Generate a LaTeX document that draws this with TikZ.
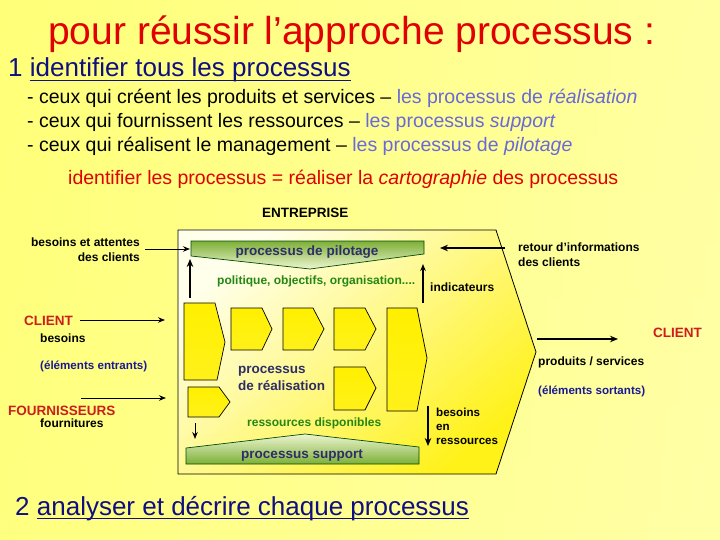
\documentclass[tikz,border=0pt]{standalone}
\usepackage{fontspec}
\setmainfont{Liberation Sans}
\usetikzlibrary{arrows.meta}
\definecolor{titlered}{RGB}{225,0,0}
\definecolor{navy}{RGB}{15,15,130}
\definecolor{lav}{RGB}{105,105,215}
\definecolor{cred}{RGB}{205,30,30}
\definecolor{dblue}{RGB}{25,25,150}
\definecolor{ptext}{RGB}{45,45,105}
\definecolor{dgreen}{RGB}{35,135,20}
\definecolor{gtop}{RGB}{125,175,55}
\definecolor{gpale}{RGB}{238,246,210}
\definecolor{yel}{RGB}{255,240,0}
\definecolor{bgtop}{RGB}{255,255,110}
\definecolor{bgmid}{RGB}{255,255,225}
\definecolor{bgbot}{RGB}{255,255,120}
\tikzset{
  lbl/.style={inner sep=0pt, font=\fontsize{12}{15}\selectfont\bfseries, align=left},
  big/.style={inner sep=0pt, font=\fontsize{13.5}{17}\selectfont\bfseries},
  head/.style={inner sep=0pt, anchor=base west, font=\fontsize{26}{30}\selectfont, text=navy},
  sub/.style={inner sep=0pt, anchor=west, font=\fontsize{19.5}{23}\selectfont},
  blk/.style={draw=black, line width=0.7pt, top color=yel, middle color=yellow!6, bottom color=yel!90},
  arr/.style={-{Stealth[length=7pt,width=5.5pt]}, line width=1pt},
  arrb/.style={-{Stealth[length=8pt,width=6.5pt]}, line width=1.8pt}
}
\begin{document}
\begin{tikzpicture}[x=1pt,y=-1pt]
\useasboundingbox (0,0) rectangle (720,540);
% background
\shade[top color=bgtop, middle color=bgmid, bottom color=bgbot] (0,0) rectangle (720,540);
\shade[left color=yellow!45, right color=white, opacity=0.35] (0,0) rectangle (720,540);

% title and headings
\node[inner sep=0pt, anchor=west, font=\fontsize{39}{44}\selectfont, text=titlered] (title) at (48,34) {pour réussir l’approche processus :};
\node[head] (h1n) at (8,77) {1};
\node[head] (h1) at (29.7,77) {identifier tous les processus};
\draw[navy, line width=1.5pt] ([yshift=2pt]h1.south west) -- ([yshift=2pt]h1.south east);
\node[sub] (l1) at (27,98) {- ceux qui créent les produits et services – \textcolor{lav}{les processus de \textit{réalisation}}};
\node[sub] (l2) at (27,122) {- ceux qui fournissent les ressources – \textcolor{lav}{les processus \textit{support}}};
\node[sub] (l3) at (27,146) {- ceux qui réalisent le management – \textcolor{lav}{les processus de \textit{pilotage}}};
\node[sub, text=titlered] (carto) at (68,179) {identifier les processus = réaliser la \textit{cartographie} des processus};

% enterprise
\node[big, anchor=west] (ent) at (262,213) {ENTREPRISE};
\shadedraw[draw=black, line width=0.8pt, top color=yellow!8, bottom color=yel!90, shading angle=40]
  (178,230) -- (496,230) -- (536,352) -- (496,474) -- (178,474) -- cycle;

% pilotage
\shadedraw[draw=black!70!green, line width=0.7pt, top color=gtop, bottom color=gpale]
  (191,241) -- (424,241) -- (424,254) -- (310,269) -- (191,256) -- cycle;
\node[big, text=ptext] (pil) at (307,252) {processus de pilotage};
\node[lbl, anchor=west, text=dgreen] (pol) at (217,281) {politique, objectifs, organisation....};

% support
\shadedraw[draw=black!70!green, line width=0.7pt, top color=gpale, bottom color=gtop]
  (186,464) -- (186,448) -- (305,434) -- (419,447) -- (419,464) -- cycle;
\node[big, text=ptext] (sup) at (302,455) {processus support};
\node[lbl, anchor=west, text=dgreen] (res) at (247,423) {ressources disponibles};

% realisation blocks
\path[blk] (184,303) -- (215,303) -- (225,342) -- (217,380) -- (184,380) -- cycle;
\path[blk] (231,308) -- (262,308) -- (272,329) -- (262,350) -- (231,350) -- cycle;
\path[blk] (283,308) -- (313,308) -- (324,329) -- (313,350) -- (283,350) -- cycle;
\path[blk] (334,308) -- (365,308) -- (376,329) -- (365,350) -- (334,350) -- cycle;
\path[blk] (387,308) -- (417,308) -- (427,358) -- (417,411) -- (387,411) -- cycle;
\path[blk] (334,367) -- (365,367) -- (376,388) -- (365,410) -- (334,410) -- cycle;
\path[blk] (188,387) -- (219,387) -- (230,402) -- (219,417) -- (188,417) -- cycle;
\node[big, anchor=west, align=left, text=ptext, font=\fontsize{13.5}{17}\selectfont\bfseries] (real) at (238,378) {processus\\de réalisation};

% left labels
\node[lbl, anchor=east, align=right] (ba) at (140,250) {besoins et attentes\\des clients};
\node[big, anchor=west, text=cred] (cl) at (24,321) {CLIENT};
\node[lbl, anchor=west] (bes) at (40,338) {besoins};
\node[lbl, anchor=west, text=dblue, font=\fontsize{11.6}{14}\selectfont\bfseries] (ein) at (40,366) {(éléments entrants)};
\node[big, anchor=west, text=cred] (fo) at (8,411) {FOURNISSEURS};
\node[lbl, anchor=west] (fou) at (40,423) {fournitures};

% right labels
\node[lbl, anchor=west] (ret) at (518,255) {retour d’informations\\des clients};
\node[lbl, anchor=west] (ind) at (430,287) {indicateurs};
\node[big, anchor=west, text=cred] (cr) at (653,333) {CLIENT};
\node[lbl, anchor=west] (ps) at (538,362) {produits / services};
\node[lbl, anchor=west, text=dblue, font=\fontsize{11.6}{14}\selectfont\bfseries] (eso) at (538,391) {(éléments sortants)};
\node[lbl, anchor=west, font=\fontsize{11.6}{14}\selectfont\bfseries] (ber) at (436,426) {besoins\\en\\ressources};

% arrow endpoints
\coordinate (pilL) at (190,249);
\coordinate (b1top) at (190,298);
\coordinate (pilB) at (190,259);
\coordinate (retS) at (505,248);
\coordinate (pilR) at (440,248);
\coordinate (b5top) at (423,303);
\coordinate (pilRB) at (423,264);
\coordinate (clS) at (80,320);
\coordinate (clE) at (165,320);
\coordinate (foS) at (81,398);
\coordinate (foE) at (166,398);
\coordinate (crS) at (537,339);
\coordinate (crE) at (618,339);
\coordinate (berS) at (428,406);
\coordinate (berE) at (428,446);
\coordinate (smS) at (195,423);
\coordinate (smE) at (195,439);

\draw[arr] ([xshift=5pt]ba.east |- pilL) -- (pilL);
\draw[arrb] (b1top) -- (pilB);
\draw[arrb] (retS) -- (pilR);
\draw[arr, line width=1.2pt] (b5top) -- (pilRB);
\draw[arr] (clS) -- (clE);
\draw[arr] (foS) -- (foE);
\draw[arrb] (crS) -- (crE);
\draw[arrb] (berS) -- (berE);
\draw[arr] (smS) -- (smE);

% heading 2
\node[head] (h2n) at (15,515) {2};
\node[head] (h2) at (36.7,515) {analyser et décrire chaque processus};
\draw[navy, line width=1.5pt] ([yshift=2pt]h2.south west) -- ([yshift=2pt]h2.south east);
\end{tikzpicture}
\end{document}
